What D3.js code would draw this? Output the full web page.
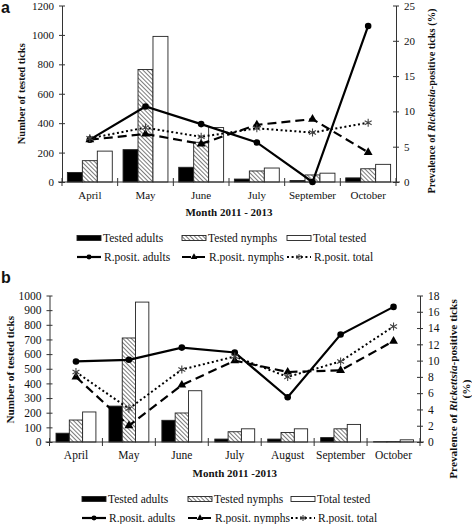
<!DOCTYPE html>
<html>
<head>
<meta charset="utf-8">
<script src="https://cdn.jsdelivr.net/npm/d3@7"></script>
<style>
  html, body { margin: 0; padding: 0; background: #fff; }
  svg { display: block; }
  text { font-family: "Liberation Serif", "Times New Roman", serif; fill: #111; }
</style>
</head>
<body>
<svg id="chart" width="472" height="524"></svg>
<script>
// ---------- Data: panel a ----------
const monthsA = ["April", "May", "June", "July", "September", "October"];
const adultsA = [65, 220, 100, 20, 10, 28];
const nymphsA = [145, 765, 270, 75, 48, 90];
const totalA  = [210, 990, 370, 95, 60, 120];
const posAdultsA = [6.0, 10.7, 8.2, 5.6, 0, 22.1];
const posNymphsA = [6.0, 6.8, 5.4, 8.1, 8.9, 4.2];
const posTotalA  = [6.2, 7.7, 6.4, 7.6, 7.0, 8.4];
const leftTicksA  = [0, 200, 400, 600, 800, 1000, 1200];
const rightTicksA = [0, 5, 10, 15, 20, 25];

// ---------- Data: panel b ----------
const monthsB = ["April", "May", "June", "July", "August", "September", "October"];
const adultsB = [60, 245, 148, 20, 20, 30, 2];
const nymphsB = [150, 710, 198, 70, 65, 90, 3];
const totalB  = [205, 955, 350, 90, 90, 120, 15];
const posAdultsB = [9.9, 10.1, 11.6, 11.0, 5.5, 13.2, 16.6];
const posNymphsB = [8.0, 2.0, 7.0, 10.0, 8.6, 8.8, 12.4];
const posTotalB  = [8.6, 4.1, 8.9, 10.5, 8.0, 9.9, 14.2];
const leftTicksB  = [0, 100, 200, 300, 400, 500, 600, 700, 800, 900, 1000];
const rightTicksB = [0, 2, 4, 6, 8, 10, 12, 14, 16, 18];

const barSeriesNames  = ["Tested adults", "Tested nymphs", "Total tested"];
const lineSeriesNames = ["R.posit. adults", "R.posit. nymphs", "R.posit. total"];

const svg = d3.select("#chart");
const defs = svg.append("defs");
const pat = defs.append("pattern")
  .attr("id", "hatch").attr("patternUnits", "userSpaceOnUse")
  .attr("width", 3).attr("height", 3)
  .attr("patternTransform", "rotate(-45)");
pat.append("rect").attr("width", 3).attr("height", 3).attr("fill", "#fff");
pat.append("line").attr("x1", 0).attr("y1", 0).attr("x2", 0).attr("y2", 3)
  .attr("stroke", "#333").attr("stroke-width", 1.3);

const barFills = ["#000", "url(#hatch)", "#fff"];
const fmt = d3.format("d");

function marker(g, type, x, y, s) {
  s = s || 1;
  if (type === 0) {
    g.append("circle").attr("cx", x).attr("cy", y).attr("r", 3.3 * s).attr("fill", "#000");
  } else if (type === 1) {
    g.append("path").attr("d", d3.symbol().type(d3.symbolTriangle).size(34 * s * s)())
      .attr("transform", `translate(${x},${y})`).attr("fill", "#000");
  } else {
    g.append("path").attr("d", d3.symbol().type(d3.symbolAsterisk).size(45 * s * s)())
      .attr("transform", `translate(${x},${y})`).attr("fill", "none")
      .attr("stroke", "#444").attr("stroke-width", 1.1);
  }
}
const lineStyles = [
  { dash: null, width: 2.2, color: "#000" },
  { dash: "9,5", width: 2.2, color: "#000" },
  { dash: "2,2.6", width: 2, color: "#000" }
];

function drawPanel(cfg) {
  const g = svg.append("g");
  const x = d3.scaleBand().domain(cfg.months).range([cfg.left, cfg.right]).padding(0);
  const xs = d3.scaleBand().domain([0, 1, 2]).range([0, x.bandwidth()])
    .paddingInner(0).paddingOuter(cfg.barPad);
  const yL = d3.scaleLinear().domain([0, cfg.leftTicks[cfg.leftTicks.length - 1]]).range([cfg.bottom, cfg.top]);
  const yR = d3.scaleLinear().domain([0, cfg.rightTicks[cfg.rightTicks.length - 1]]).range([cfg.bottom, cfg.top]);

  // bars
  const barData = [cfg.adults, cfg.nymphs, cfg.total];
  barData.forEach((arr, si) => {
    g.append("g").selectAll("rect").data(arr).join("rect")
      .attr("x", (d, i) => x(cfg.months[i]) + xs(si))
      .attr("y", d => yL(d))
      .attr("width", xs.bandwidth())
      .attr("height", d => cfg.bottom - yL(d))
      .attr("fill", barFills[si])
      .attr("stroke", "#222").attr("stroke-width", 0.9);
  });

  // left axis
  const axL = g.append("g").attr("transform", `translate(${cfg.left},0)`)
    .call(d3.axisLeft(yL).tickValues(cfg.leftTicks).tickFormat(fmt).tickSize(3).tickPadding(cfg.tickPad).tickSizeOuter(0));
  axL.selectAll(".tick line").attr("x1", 3).attr("stroke", "#333");
  axL.select(".domain").attr("stroke", "#333");
  axL.selectAll("text").style("font-family", "Liberation Serif").style("font-size", cfg.tickFont + "px").attr("fill", "#111");

  // right axis
  const axR = g.append("g").attr("transform", `translate(${cfg.right},0)`)
    .call(d3.axisRight(yR).tickValues(cfg.rightTicks).tickFormat(fmt).tickSize(3).tickPadding(cfg.tickPad).tickSizeOuter(0));
  axR.selectAll(".tick line").attr("x1", -3).attr("stroke", "#333");
  axR.select(".domain").attr("stroke", "#333");
  axR.selectAll("text").style("font-family", "Liberation Serif").style("font-size", cfg.tickFont + "px").attr("fill", "#111");

  // x axis
  const axX = g.append("g").attr("transform", `translate(0,${cfg.bottom})`)
    .call(d3.axisBottom(x).tickSize(0).tickPadding(cfg.xPad).tickSizeOuter(0));
  axX.select(".domain").attr("d", `M${cfg.left - 4},0H${cfg.right + 4}`).attr("stroke", "#333");
  axX.selectAll("text").style("font-family", "Liberation Serif").style("font-size", cfg.tickFont + "px").attr("fill", "#111");
  const bounds = cfg.months.map(m => x(m)).concat([cfg.right]);
  axX.selectAll("line.bnd").data(bounds).join("line").attr("class", "bnd")
    .attr("x1", d => d).attr("x2", d => d).attr("y1", -4).attr("y2", 4)
    .attr("stroke", "#333");

  // lines
  const lineData = [cfg.posAdults, cfg.posNymphs, cfg.posTotal];
  const lineGen = d3.line().x((d, i) => x(cfg.months[i]) + x.bandwidth() / 2).y(d => yR(d));
  lineData.forEach((arr, si) => {
    const st = lineStyles[si];
    g.append("path").datum(arr).attr("d", lineGen).attr("fill", "none")
      .attr("stroke", st.color).attr("stroke-width", st.width)
      .attr("stroke-dasharray", st.dash);
  });
  lineData.forEach((arr, si) => {
    arr.forEach((d, i) => marker(g, si, x(cfg.months[i]) + x.bandwidth() / 2, yR(d)));
  });

  // axis titles
  g.append("text").attr("transform", `translate(${cfg.yTitleX},${(cfg.top + cfg.bottom) / 2 + cfg.yTitleDy}) rotate(-90)`)
    .attr("text-anchor", "middle").style("font-weight", "bold").style("font-size", cfg.titleFont + "px")
    .text("Number of tested ticks");
  const xMid = (cfg.left + cfg.right) / 2;
  g.append("text").attr("x", xMid).attr("y", cfg.xTitleY).attr("text-anchor", "middle")
    .style("font-weight", "bold").style("font-size", "11px").text(cfg.xTitle);

  cfg.rTitle.forEach((line, li) => {
    const t = g.append("text")
      .attr("transform", `translate(${cfg.rTitleX + li * cfg.rTitleGap},${cfg.rTitleY}) rotate(-90)`)
      .attr("text-anchor", "middle").style("font-weight", "bold").style("font-size", cfg.rTitleFont + "px");
    line.forEach(seg => {
      t.append("tspan").style("font-style", seg.italic ? "italic" : "normal").text(seg.t);
    });
  });

  // panel letter
  g.append("text").attr("x", cfg.letterX).attr("y", cfg.letterY)
    .style("font-family", "Liberation Sans, Arial, sans-serif").style("font-weight", "bold")
    .style("font-size", "16px").attr("fill", "#000").text(cfg.letter);

  // legend
  const lg = g.append("g");
  barSeriesNames.forEach((name, i) => {
    const lx = cfg.legX[i];
    lg.append("rect").attr("x", lx).attr("y", cfg.legY1 - 6.5).attr("width", 24).attr("height", 5)
      .attr("fill", barFills[i]).attr("stroke", "#222").attr("stroke-width", 0.9);
    lg.append("text").attr("x", lx + 26).attr("y", cfg.legY1).style("font-size", "11.5px").text(name);
  });
  lineSeriesNames.forEach((name, i) => {
    const lx = cfg.legX[i];
    const st = lineStyles[i];
    const ly = cfg.legY2 - 4;
    lg.append("line").attr("x1", lx).attr("x2", lx + 24).attr("y1", ly).attr("y2", ly)
      .attr("stroke", st.color).attr("stroke-width", st.width).attr("stroke-dasharray", st.dash);
    marker(lg, i, lx + 12, ly, 0.75);
    lg.append("text").attr("x", lx + 27).attr("y", cfg.legY2).style("font-size", "11.5px").text(name);
  });
}

drawPanel({
  months: monthsA, adults: adultsA, nymphs: nymphsA, total: totalA,
  posAdults: posAdultsA, posNymphs: posNymphsA, posTotal: posTotalA,
  leftTicks: leftTicksA, rightTicks: rightTicksA,
  left: 62, right: 396, top: 5.5, bottom: 182, barPad: 0.36,
  tickFont: 11, tickPad: 5, xPad: 9,
  yTitleX: 25, yTitleDy: 0, titleFont: 10.5,
  xTitle: "Month 2011 - 2013", xTitleY: 216,
  rTitle: [[{ t: "Prevalence of " }, { t: "Rickettsia", italic: true }, { t: "-positive ticks (%)" }]],
  rTitleX: 435, rTitleY: 101, rTitleGap: 0, rTitleFont: 10.4,
  letter: "a", letterX: 1, letterY: 13,
  legX: [77, 182, 287], legY1: 242, legY2: 261
});

drawPanel({
  months: monthsB, adults: adultsB, nymphs: nymphsB, total: totalB,
  posAdults: posAdultsB, posNymphs: posNymphsB, posTotal: posTotalB,
  leftTicks: leftTicksB, rightTicks: rightTicksB,
  left: 49.5, right: 420, top: 295.5, bottom: 442, barPad: 0.49,
  tickFont: 11.5, tickPad: 5, xPad: 9,
  yTitleX: 14, yTitleDy: 1, titleFont: 11.2,
  xTitle: "Month 2011 -2013", xTitleY: 477,
  rTitle: [[{ t: "Prevalence of " }, { t: "Rickettsia", italic: true }, { t: "-positive ticks" }], [{ t: "(%)" }]],
  rTitleX: 457, rTitleY: 389, rTitleGap: 13, rTitleFont: 11.3,
  letter: "b", letterX: 1, letterY: 283,
  legX: [82, 188, 291], legY1: 503, legY2: 522
});
</script>
</body>
</html>
